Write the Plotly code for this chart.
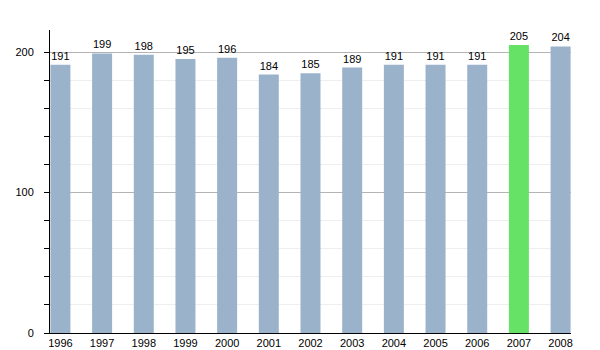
import plotly.graph_objects as go

years = ["1996", "1997", "1998", "1999", "2000", "2001", "2002",
         "2003", "2004", "2005", "2006", "2007", "2008"]
population = [191, 199, 198, 195, 196, 184, 185, 189, 191, 191, 191, 205, 204]
highlight_year = "2007"

base_color = "#9bb2cb"
highlight_color = "#66e266"
colors = [highlight_color if y == highlight_year else base_color for y in years]

fig = go.Figure(go.Bar(
    x=years,
    y=population,
    marker=dict(color=colors, line=dict(width=0)),
    width=0.48,
    text=[str(v) for v in population],
    textposition="outside",
    textfont=dict(color="black", size=11, family="Liberation Sans, Arial"),
    cliponaxis=False,
))

fig.update_layout(
    width=600, height=350,
    margin=dict(l=50, r=29, t=30, b=17),
    paper_bgcolor="white", plot_bgcolor="white",
    font=dict(family="Liberation Sans, Arial", size=11, color="black"),
    showlegend=False,
    bargap=0.52,
)
fig.update_xaxes(
    type="category",
    range=[-0.25, 12.25],
    automargin=False,
    showline=True, linecolor="black", linewidth=1,
    ticks="", showgrid=False,
    tickfont=dict(size=11, color="black"),
    ticklabelstandoff=0,
)
fig.update_yaxes(
    range=[0, 215.7],
    automargin=False,
    dtick=100, tick0=0,
    showline=True, linecolor="black", linewidth=1,
    ticks="outside", ticklen=5, tickcolor="black", tickwidth=1,
    showgrid=True, gridcolor="#b4b4b4", gridwidth=1,
    zeroline=False,
    tickfont=dict(size=11, color="black"),
    ticklabelstandoff=8,
    minor=dict(dtick=20, tick0=0, ticks="outside", ticklen=5, tickcolor="black",
               showgrid=True, gridcolor="#eeeeee", gridwidth=1),
)

fig.write_html("out.html")
